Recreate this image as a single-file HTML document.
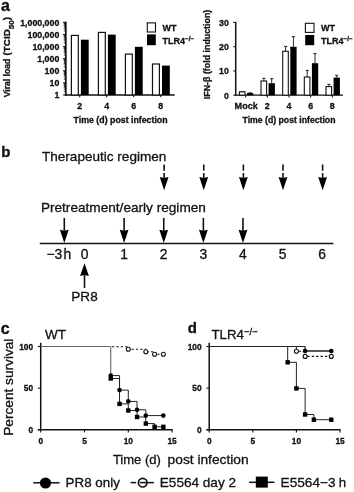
<!DOCTYPE html>
<html><head><meta charset="utf-8"><title>Figure</title>
<style>
html,body{margin:0;padding:0;background:#fff;}
svg{display:block;font-family:"Liberation Sans",sans-serif;filter:blur(0.4px);}
</style></head><body>
<svg width="354" height="492" viewBox="0 0 354 492">
<rect x="0" y="0" width="354" height="492" fill="#fff"/>
<text x="0.90" y="10.60" font-size="16" font-weight="bold" stroke="#111" stroke-width="0.3" text-anchor="start" fill="#111" >a</text>
<text x="1.20" y="157.40" font-size="15" font-weight="bold" stroke="#111" stroke-width="0.3" text-anchor="start" fill="#111" >b</text>
<text x="0.80" y="334.30" font-size="16" font-weight="bold" stroke="#111" stroke-width="0.3" text-anchor="start" fill="#111" >c</text>
<text x="187.80" y="333.30" font-size="15" font-weight="bold" stroke="#111" stroke-width="0.3" text-anchor="start" fill="#111" >d</text>
<line x1="65.80" y1="21.60" x2="65.80" y2="95.60" stroke="#111" stroke-width="1.7" />
<line x1="64.80" y1="95.00" x2="174.60" y2="95.00" stroke="#111" stroke-width="1.3" />
<line x1="63.10" y1="95.00" x2="65.50" y2="95.00" stroke="#111" stroke-width="1.1" />
<line x1="63.80" y1="91.36" x2="65.50" y2="91.36" stroke="#111" stroke-width="0.8" />
<line x1="63.80" y1="89.23" x2="65.50" y2="89.23" stroke="#111" stroke-width="0.8" />
<line x1="63.80" y1="87.72" x2="65.50" y2="87.72" stroke="#111" stroke-width="0.8" />
<line x1="63.80" y1="86.54" x2="65.50" y2="86.54" stroke="#111" stroke-width="0.8" />
<line x1="63.80" y1="85.58" x2="65.50" y2="85.58" stroke="#111" stroke-width="0.8" />
<line x1="63.80" y1="84.77" x2="65.50" y2="84.77" stroke="#111" stroke-width="0.8" />
<line x1="63.80" y1="84.07" x2="65.50" y2="84.07" stroke="#111" stroke-width="0.8" />
<line x1="63.80" y1="83.45" x2="65.50" y2="83.45" stroke="#111" stroke-width="0.8" />
<line x1="63.10" y1="82.90" x2="65.50" y2="82.90" stroke="#111" stroke-width="1.1" />
<line x1="63.80" y1="79.26" x2="65.50" y2="79.26" stroke="#111" stroke-width="0.8" />
<line x1="63.80" y1="77.13" x2="65.50" y2="77.13" stroke="#111" stroke-width="0.8" />
<line x1="63.80" y1="75.62" x2="65.50" y2="75.62" stroke="#111" stroke-width="0.8" />
<line x1="63.80" y1="74.44" x2="65.50" y2="74.44" stroke="#111" stroke-width="0.8" />
<line x1="63.80" y1="73.48" x2="65.50" y2="73.48" stroke="#111" stroke-width="0.8" />
<line x1="63.80" y1="72.67" x2="65.50" y2="72.67" stroke="#111" stroke-width="0.8" />
<line x1="63.80" y1="71.97" x2="65.50" y2="71.97" stroke="#111" stroke-width="0.8" />
<line x1="63.80" y1="71.35" x2="65.50" y2="71.35" stroke="#111" stroke-width="0.8" />
<line x1="63.10" y1="70.80" x2="65.50" y2="70.80" stroke="#111" stroke-width="1.1" />
<line x1="63.80" y1="67.16" x2="65.50" y2="67.16" stroke="#111" stroke-width="0.8" />
<line x1="63.80" y1="65.03" x2="65.50" y2="65.03" stroke="#111" stroke-width="0.8" />
<line x1="63.80" y1="63.52" x2="65.50" y2="63.52" stroke="#111" stroke-width="0.8" />
<line x1="63.80" y1="62.34" x2="65.50" y2="62.34" stroke="#111" stroke-width="0.8" />
<line x1="63.80" y1="61.38" x2="65.50" y2="61.38" stroke="#111" stroke-width="0.8" />
<line x1="63.80" y1="60.57" x2="65.50" y2="60.57" stroke="#111" stroke-width="0.8" />
<line x1="63.80" y1="59.87" x2="65.50" y2="59.87" stroke="#111" stroke-width="0.8" />
<line x1="63.80" y1="59.25" x2="65.50" y2="59.25" stroke="#111" stroke-width="0.8" />
<line x1="63.10" y1="58.70" x2="65.50" y2="58.70" stroke="#111" stroke-width="1.1" />
<line x1="63.80" y1="55.06" x2="65.50" y2="55.06" stroke="#111" stroke-width="0.8" />
<line x1="63.80" y1="52.93" x2="65.50" y2="52.93" stroke="#111" stroke-width="0.8" />
<line x1="63.80" y1="51.42" x2="65.50" y2="51.42" stroke="#111" stroke-width="0.8" />
<line x1="63.80" y1="50.24" x2="65.50" y2="50.24" stroke="#111" stroke-width="0.8" />
<line x1="63.80" y1="49.28" x2="65.50" y2="49.28" stroke="#111" stroke-width="0.8" />
<line x1="63.80" y1="48.47" x2="65.50" y2="48.47" stroke="#111" stroke-width="0.8" />
<line x1="63.80" y1="47.77" x2="65.50" y2="47.77" stroke="#111" stroke-width="0.8" />
<line x1="63.80" y1="47.15" x2="65.50" y2="47.15" stroke="#111" stroke-width="0.8" />
<line x1="63.10" y1="46.60" x2="65.50" y2="46.60" stroke="#111" stroke-width="1.1" />
<line x1="63.80" y1="42.96" x2="65.50" y2="42.96" stroke="#111" stroke-width="0.8" />
<line x1="63.80" y1="40.83" x2="65.50" y2="40.83" stroke="#111" stroke-width="0.8" />
<line x1="63.80" y1="39.32" x2="65.50" y2="39.32" stroke="#111" stroke-width="0.8" />
<line x1="63.80" y1="38.14" x2="65.50" y2="38.14" stroke="#111" stroke-width="0.8" />
<line x1="63.80" y1="37.18" x2="65.50" y2="37.18" stroke="#111" stroke-width="0.8" />
<line x1="63.80" y1="36.37" x2="65.50" y2="36.37" stroke="#111" stroke-width="0.8" />
<line x1="63.80" y1="35.67" x2="65.50" y2="35.67" stroke="#111" stroke-width="0.8" />
<line x1="63.80" y1="35.05" x2="65.50" y2="35.05" stroke="#111" stroke-width="0.8" />
<line x1="63.10" y1="34.50" x2="65.50" y2="34.50" stroke="#111" stroke-width="1.1" />
<line x1="63.80" y1="30.86" x2="65.50" y2="30.86" stroke="#111" stroke-width="0.8" />
<line x1="63.80" y1="28.73" x2="65.50" y2="28.73" stroke="#111" stroke-width="0.8" />
<line x1="63.80" y1="27.22" x2="65.50" y2="27.22" stroke="#111" stroke-width="0.8" />
<line x1="63.80" y1="26.04" x2="65.50" y2="26.04" stroke="#111" stroke-width="0.8" />
<line x1="63.80" y1="25.08" x2="65.50" y2="25.08" stroke="#111" stroke-width="0.8" />
<line x1="63.80" y1="24.27" x2="65.50" y2="24.27" stroke="#111" stroke-width="0.8" />
<line x1="63.80" y1="23.57" x2="65.50" y2="23.57" stroke="#111" stroke-width="0.8" />
<line x1="63.80" y1="22.95" x2="65.50" y2="22.95" stroke="#111" stroke-width="0.8" />
<line x1="63.10" y1="22.40" x2="65.50" y2="22.40" stroke="#111" stroke-width="1.1" />
<text x="59.30" y="98.30" font-size="8.8" font-weight="bold" stroke="#111" stroke-width="0.3" text-anchor="end" fill="#111" >1</text>
<text x="59.30" y="86.20" font-size="8.8" font-weight="bold" stroke="#111" stroke-width="0.3" text-anchor="end" fill="#111" >10</text>
<text x="59.30" y="74.10" font-size="8.8" font-weight="bold" stroke="#111" stroke-width="0.3" text-anchor="end" fill="#111" >100</text>
<text x="59.30" y="62.00" font-size="8.8" font-weight="bold" stroke="#111" stroke-width="0.3" text-anchor="end" fill="#111" >1,000</text>
<text x="59.30" y="49.90" font-size="8.8" font-weight="bold" stroke="#111" stroke-width="0.3" text-anchor="end" fill="#111" >10,000</text>
<text x="59.30" y="37.80" font-size="8.8" font-weight="bold" stroke="#111" stroke-width="0.3" text-anchor="end" fill="#111" >100,000</text>
<text x="59.30" y="25.70" font-size="8.8" font-weight="bold" stroke="#111" stroke-width="0.3" text-anchor="end" fill="#111" >1,000,000</text>
<line x1="79.70" y1="95.00" x2="79.70" y2="97.30" stroke="#111" stroke-width="1.1" />
<text x="79.70" y="108.90" font-size="8.8" font-weight="bold" stroke="#111" stroke-width="0.3" text-anchor="middle" fill="#111" >2</text>
<rect x="71.40" y="35.40" width="6.90" height="59.60" fill="#fff" stroke="#111" stroke-width="1.2"/>
<rect x="80.90" y="39.70" width="7.80" height="55.30" fill="#000"/>
<line x1="106.70" y1="95.00" x2="106.70" y2="97.30" stroke="#111" stroke-width="1.1" />
<text x="106.70" y="108.90" font-size="8.8" font-weight="bold" stroke="#111" stroke-width="0.3" text-anchor="middle" fill="#111" >4</text>
<rect x="98.40" y="32.40" width="6.90" height="62.60" fill="#fff" stroke="#111" stroke-width="1.2"/>
<rect x="107.90" y="34.60" width="7.80" height="60.40" fill="#000"/>
<line x1="133.70" y1="95.00" x2="133.70" y2="97.30" stroke="#111" stroke-width="1.1" />
<text x="133.70" y="108.90" font-size="8.8" font-weight="bold" stroke="#111" stroke-width="0.3" text-anchor="middle" fill="#111" >6</text>
<rect x="125.40" y="54.10" width="6.90" height="40.90" fill="#fff" stroke="#111" stroke-width="1.2"/>
<rect x="134.90" y="46.80" width="7.80" height="48.20" fill="#000"/>
<line x1="160.80" y1="95.00" x2="160.80" y2="97.30" stroke="#111" stroke-width="1.1" />
<text x="160.80" y="108.90" font-size="8.8" font-weight="bold" stroke="#111" stroke-width="0.3" text-anchor="middle" fill="#111" >8</text>
<rect x="152.50" y="64.00" width="6.90" height="31.00" fill="#fff" stroke="#111" stroke-width="1.2"/>
<rect x="162.00" y="65.60" width="7.80" height="29.40" fill="#000"/>
<text x="73.60" y="123.00" font-size="8.8" font-weight="bold" stroke="#111" stroke-width="0.3" text-anchor="start" textLength="94" lengthAdjust="spacingAndGlyphs" fill="#111" >Time (d) post infection</text>
<text transform="translate(9.5,97.2) rotate(-90)" font-size="9.1" font-weight="bold" fill="#111" stroke="#111" stroke-width="0.3" textLength="38.4" lengthAdjust="spacingAndGlyphs">Viral load</text>
<text transform="translate(9.5,55.4) rotate(-90)" font-size="9.8" font-weight="bold" fill="#111" stroke="#111" stroke-width="0.3">(TCID<tspan font-size="8" dy="4.2">50</tspan><tspan dy="-4.2">)</tspan></text>
<rect x="147.30" y="22.90" width="8.20" height="9.10" fill="#fff" stroke="#111" stroke-width="1.1"/>
<rect x="147.00" y="34.40" width="8.80" height="10.80" fill="#000"/>
<text x="162.60" y="31.00" font-size="9" font-weight="bold" stroke="#111" stroke-width="0.3" text-anchor="start" fill="#111" >WT</text>
<text x="162.6" y="43.9" font-size="9" font-weight="bold" fill="#111" stroke="#111" stroke-width="0.3">TLR4<tspan font-size="6.3" dy="-2.5">−/−</tspan></text>
<line x1="235.70" y1="21.80" x2="235.70" y2="95.80" stroke="#111" stroke-width="1.5" />
<line x1="235.00" y1="95.20" x2="343.00" y2="95.20" stroke="#111" stroke-width="1.3" />
<line x1="233.30" y1="95.20" x2="235.70" y2="95.20" stroke="#111" stroke-width="1.1" />
<text x="228.80" y="98.60" font-size="8.8" font-weight="bold" stroke="#111" stroke-width="0.3" text-anchor="end" fill="#111" >0</text>
<line x1="233.30" y1="70.95" x2="235.70" y2="70.95" stroke="#111" stroke-width="1.1" />
<text x="228.80" y="74.35" font-size="8.8" font-weight="bold" stroke="#111" stroke-width="0.3" text-anchor="end" fill="#111" >10</text>
<line x1="233.30" y1="46.70" x2="235.70" y2="46.70" stroke="#111" stroke-width="1.1" />
<text x="228.80" y="50.10" font-size="8.8" font-weight="bold" stroke="#111" stroke-width="0.3" text-anchor="end" fill="#111" >20</text>
<line x1="233.30" y1="22.45" x2="235.70" y2="22.45" stroke="#111" stroke-width="1.1" />
<text x="228.80" y="25.85" font-size="8.8" font-weight="bold" stroke="#111" stroke-width="0.3" text-anchor="end" fill="#111" >30</text>
<line x1="245.70" y1="95.20" x2="245.70" y2="97.50" stroke="#111" stroke-width="1.1" />
<text x="246.20" y="108.70" font-size="9.1" font-weight="bold" stroke="#111" stroke-width="0.3" text-anchor="middle" fill="#111" >Mock</text>
<line x1="242.30" y1="91.60" x2="242.30" y2="91.80" stroke="#111" stroke-width="0.9" />
<line x1="240.70" y1="91.60" x2="243.90" y2="91.60" stroke="#111" stroke-width="0.9" />
<rect x="239.40" y="91.80" width="5.60" height="3.40" fill="#fff" stroke="#111" stroke-width="1.1"/>
<line x1="250.10" y1="92.80" x2="250.10" y2="93.00" stroke="#111" stroke-width="0.9" />
<line x1="248.50" y1="92.80" x2="251.70" y2="92.80" stroke="#111" stroke-width="0.9" />
<rect x="247.00" y="93.00" width="6.30" height="2.20" fill="#000"/>
<line x1="267.30" y1="95.20" x2="267.30" y2="97.50" stroke="#111" stroke-width="1.1" />
<text x="267.30" y="108.70" font-size="8.8" font-weight="bold" stroke="#111" stroke-width="0.3" text-anchor="middle" fill="#111" >2</text>
<line x1="263.90" y1="78.30" x2="263.90" y2="81.00" stroke="#111" stroke-width="0.9" />
<line x1="262.30" y1="78.30" x2="265.50" y2="78.30" stroke="#111" stroke-width="0.9" />
<rect x="261.00" y="81.00" width="5.60" height="14.20" fill="#fff" stroke="#111" stroke-width="1.1"/>
<line x1="271.70" y1="78.70" x2="271.70" y2="83.20" stroke="#111" stroke-width="0.9" />
<line x1="270.10" y1="78.70" x2="273.30" y2="78.70" stroke="#111" stroke-width="0.9" />
<rect x="268.60" y="83.20" width="6.30" height="12.00" fill="#000"/>
<line x1="289.00" y1="95.20" x2="289.00" y2="97.50" stroke="#111" stroke-width="1.1" />
<text x="289.00" y="108.70" font-size="8.8" font-weight="bold" stroke="#111" stroke-width="0.3" text-anchor="middle" fill="#111" >4</text>
<line x1="285.60" y1="46.40" x2="285.60" y2="51.30" stroke="#111" stroke-width="0.9" />
<line x1="284.00" y1="46.40" x2="287.20" y2="46.40" stroke="#111" stroke-width="0.9" />
<rect x="282.70" y="51.30" width="5.60" height="43.90" fill="#fff" stroke="#111" stroke-width="1.1"/>
<line x1="293.40" y1="36.60" x2="293.40" y2="46.80" stroke="#111" stroke-width="0.9" />
<line x1="291.80" y1="36.60" x2="295.00" y2="36.60" stroke="#111" stroke-width="0.9" />
<rect x="290.30" y="46.80" width="6.30" height="48.40" fill="#000"/>
<line x1="310.60" y1="95.20" x2="310.60" y2="97.50" stroke="#111" stroke-width="1.1" />
<text x="310.60" y="108.70" font-size="8.8" font-weight="bold" stroke="#111" stroke-width="0.3" text-anchor="middle" fill="#111" >6</text>
<line x1="307.20" y1="70.40" x2="307.20" y2="77.00" stroke="#111" stroke-width="0.9" />
<line x1="305.60" y1="70.40" x2="308.80" y2="70.40" stroke="#111" stroke-width="0.9" />
<rect x="304.30" y="77.00" width="5.60" height="18.20" fill="#fff" stroke="#111" stroke-width="1.1"/>
<line x1="315.00" y1="53.60" x2="315.00" y2="63.20" stroke="#111" stroke-width="0.9" />
<line x1="313.40" y1="53.60" x2="316.60" y2="53.60" stroke="#111" stroke-width="0.9" />
<rect x="311.90" y="63.20" width="6.30" height="32.00" fill="#000"/>
<line x1="332.30" y1="95.20" x2="332.30" y2="97.50" stroke="#111" stroke-width="1.1" />
<text x="332.30" y="108.70" font-size="8.8" font-weight="bold" stroke="#111" stroke-width="0.3" text-anchor="middle" fill="#111" >8</text>
<line x1="328.90" y1="84.40" x2="328.90" y2="86.60" stroke="#111" stroke-width="0.9" />
<line x1="327.30" y1="84.40" x2="330.50" y2="84.40" stroke="#111" stroke-width="0.9" />
<rect x="326.00" y="86.60" width="5.60" height="8.60" fill="#fff" stroke="#111" stroke-width="1.1"/>
<line x1="336.70" y1="75.30" x2="336.70" y2="77.60" stroke="#111" stroke-width="0.9" />
<line x1="335.10" y1="75.30" x2="338.30" y2="75.30" stroke="#111" stroke-width="0.9" />
<rect x="333.60" y="77.60" width="6.30" height="17.60" fill="#000"/>
<text x="242.50" y="123.20" font-size="8.8" font-weight="bold" stroke="#111" stroke-width="0.3" text-anchor="start" textLength="93" lengthAdjust="spacingAndGlyphs" fill="#111" >Time (d) post infection</text>
<text transform="translate(209.8,99.2) rotate(-90)" font-size="8.8" font-weight="bold" fill="#111" stroke="#111" stroke-width="0.3" textLength="89.5" lengthAdjust="spacingAndGlyphs">IFN-β (fold induction)</text>
<rect x="305.40" y="23.30" width="8.60" height="9.10" fill="#fff" stroke="#111" stroke-width="1.1"/>
<rect x="305.20" y="35.00" width="9.00" height="10.20" fill="#000"/>
<text x="321.00" y="31.00" font-size="9" font-weight="bold" stroke="#111" stroke-width="0.3" text-anchor="start" fill="#111" >WT</text>
<text x="321" y="43.9" font-size="9" font-weight="bold" fill="#111" stroke="#111" stroke-width="0.3">TLR4<tspan font-size="6.3" dy="-2.5">−/−</tspan></text>
<text x="42.00" y="160.60" font-size="13.3" stroke="#111" stroke-width="0.3" text-anchor="start" textLength="124.3" lengthAdjust="spacingAndGlyphs" fill="#111" >Therapeutic regimen</text>
<text x="40.90" y="211.60" font-size="13.3" stroke="#111" stroke-width="0.3" text-anchor="start" textLength="165" lengthAdjust="spacingAndGlyphs" fill="#111" >Pretreatment/early regimen</text>
<line x1="39.70" y1="243.50" x2="333.40" y2="243.50" stroke="#111" stroke-width="1.4" />
<line x1="164.14" y1="164.50" x2="164.14" y2="170.70" stroke="#111" stroke-width="1.6" />
<line x1="164.14" y1="173.10" x2="164.14" y2="178.30" stroke="#111" stroke-width="1.6" />
<polygon points="159.74,177.00 164.14,177.90 168.54,177.00 164.14,190.30" fill="#000"/>
<line x1="203.76" y1="164.50" x2="203.76" y2="170.70" stroke="#111" stroke-width="1.6" />
<line x1="203.76" y1="173.10" x2="203.76" y2="178.30" stroke="#111" stroke-width="1.6" />
<polygon points="199.36,177.00 203.76,177.90 208.16,177.00 203.76,190.30" fill="#000"/>
<line x1="243.38" y1="164.50" x2="243.38" y2="170.70" stroke="#111" stroke-width="1.6" />
<line x1="243.38" y1="173.10" x2="243.38" y2="178.30" stroke="#111" stroke-width="1.6" />
<polygon points="238.98,177.00 243.38,177.90 247.78,177.00 243.38,190.30" fill="#000"/>
<line x1="283.00" y1="164.50" x2="283.00" y2="170.70" stroke="#111" stroke-width="1.6" />
<line x1="283.00" y1="173.10" x2="283.00" y2="178.30" stroke="#111" stroke-width="1.6" />
<polygon points="278.60,177.00 283.00,177.90 287.40,177.00 283.00,190.30" fill="#000"/>
<line x1="322.62" y1="164.50" x2="322.62" y2="170.70" stroke="#111" stroke-width="1.6" />
<line x1="322.62" y1="173.10" x2="322.62" y2="178.30" stroke="#111" stroke-width="1.6" />
<polygon points="318.22,177.00 322.62,177.90 327.02,177.00 322.62,190.30" fill="#000"/>
<line x1="64.30" y1="217.90" x2="64.30" y2="231.10" stroke="#111" stroke-width="1.6" />
<polygon points="59.90,229.80 64.30,230.70 68.70,229.80 64.30,243.10" fill="#000"/>
<line x1="124.12" y1="217.90" x2="124.12" y2="231.10" stroke="#111" stroke-width="1.6" />
<polygon points="119.72,229.80 124.12,230.70 128.52,229.80 124.12,243.10" fill="#000"/>
<line x1="163.74" y1="217.90" x2="163.74" y2="231.10" stroke="#111" stroke-width="1.6" />
<polygon points="159.34,229.80 163.74,230.70 168.14,229.80 163.74,243.10" fill="#000"/>
<line x1="203.36" y1="217.90" x2="203.36" y2="231.10" stroke="#111" stroke-width="1.6" />
<polygon points="198.96,229.80 203.36,230.70 207.76,229.80 203.36,243.10" fill="#000"/>
<line x1="242.98" y1="217.90" x2="242.98" y2="231.10" stroke="#111" stroke-width="1.6" />
<polygon points="238.58,229.80 242.98,230.70 247.38,229.80 242.98,243.10" fill="#000"/>
<text x="84.50" y="259.00" font-size="13.9" stroke="#111" stroke-width="0.3" text-anchor="middle" fill="#111" >0</text>
<text x="124.12" y="259.00" font-size="13.9" stroke="#111" stroke-width="0.3" text-anchor="middle" fill="#111" >1</text>
<text x="163.74" y="259.00" font-size="13.9" stroke="#111" stroke-width="0.3" text-anchor="middle" fill="#111" >2</text>
<text x="203.36" y="259.00" font-size="13.9" stroke="#111" stroke-width="0.3" text-anchor="middle" fill="#111" >3</text>
<text x="242.98" y="259.00" font-size="13.9" stroke="#111" stroke-width="0.3" text-anchor="middle" fill="#111" >4</text>
<text x="282.60" y="259.00" font-size="13.9" stroke="#111" stroke-width="0.3" text-anchor="middle" fill="#111" >5</text>
<text x="322.22" y="259.00" font-size="13.9" stroke="#111" stroke-width="0.3" text-anchor="middle" fill="#111" >6</text>
<text x="46.40" y="259.00" font-size="13.9" stroke="#111" stroke-width="0.3" text-anchor="start" fill="#111" >−3</text>
<text x="63.50" y="259.00" font-size="13.9" stroke="#111" stroke-width="0.3" text-anchor="start" fill="#111" >h</text>
<line x1="84.50" y1="288.00" x2="84.50" y2="275.00" stroke="#111" stroke-width="1.6" />
<polygon points="80.1,276 84.5,275 88.9,276 84.5,263.2" fill="#000"/>
<text x="84.50" y="300.80" font-size="13.700000000000001" stroke="#111" stroke-width="0.3" text-anchor="middle" textLength="26.4" lengthAdjust="spacingAndGlyphs" fill="#111" >PR8</text>
<line x1="40.70" y1="342.80" x2="40.70" y2="430.40" stroke="#111" stroke-width="1.5" />
<line x1="37.90" y1="429.80" x2="172.70" y2="429.80" stroke="#111" stroke-width="1.4" />
<line x1="37.90" y1="429.80" x2="40.70" y2="429.80" stroke="#111" stroke-width="1.1" />
<text x="33.10" y="432.80" font-size="8.3" font-weight="bold" stroke="#111" stroke-width="0.3" text-anchor="end" fill="#111" >0</text>
<line x1="37.90" y1="388.15" x2="40.70" y2="388.15" stroke="#111" stroke-width="1.1" />
<text x="33.10" y="391.15" font-size="8.3" font-weight="bold" stroke="#111" stroke-width="0.3" text-anchor="end" fill="#111" >50</text>
<line x1="37.90" y1="346.50" x2="40.70" y2="346.50" stroke="#111" stroke-width="1.1" />
<text x="33.10" y="349.50" font-size="8.3" font-weight="bold" stroke="#111" stroke-width="0.3" text-anchor="end" fill="#111" >100</text>
<line x1="40.70" y1="429.80" x2="40.70" y2="432.40" stroke="#111" stroke-width="1.1" />
<text x="40.70" y="443.50" font-size="8.3" font-weight="bold" stroke="#111" stroke-width="0.3" text-anchor="middle" fill="#111" >0</text>
<line x1="84.50" y1="429.80" x2="84.50" y2="432.40" stroke="#111" stroke-width="1.1" />
<text x="84.50" y="443.50" font-size="8.3" font-weight="bold" stroke="#111" stroke-width="0.3" text-anchor="middle" fill="#111" >5</text>
<line x1="128.30" y1="429.80" x2="128.30" y2="432.40" stroke="#111" stroke-width="1.1" />
<text x="128.30" y="443.50" font-size="8.3" font-weight="bold" stroke="#111" stroke-width="0.3" text-anchor="middle" fill="#111" >10</text>
<line x1="172.10" y1="429.80" x2="172.10" y2="432.40" stroke="#111" stroke-width="1.1" />
<text x="172.10" y="443.50" font-size="8.3" font-weight="bold" stroke="#111" stroke-width="0.3" text-anchor="middle" fill="#111" >15</text>
<line x1="209.20" y1="342.80" x2="209.20" y2="430.40" stroke="#111" stroke-width="1.5" />
<line x1="206.40" y1="429.80" x2="340.60" y2="429.80" stroke="#111" stroke-width="1.4" />
<line x1="206.40" y1="429.80" x2="209.20" y2="429.80" stroke="#111" stroke-width="1.1" />
<text x="201.60" y="432.80" font-size="8.3" font-weight="bold" stroke="#111" stroke-width="0.3" text-anchor="end" fill="#111" >0</text>
<line x1="206.40" y1="388.15" x2="209.20" y2="388.15" stroke="#111" stroke-width="1.1" />
<text x="201.60" y="391.15" font-size="8.3" font-weight="bold" stroke="#111" stroke-width="0.3" text-anchor="end" fill="#111" >50</text>
<line x1="206.40" y1="346.50" x2="209.20" y2="346.50" stroke="#111" stroke-width="1.1" />
<text x="201.60" y="349.50" font-size="8.3" font-weight="bold" stroke="#111" stroke-width="0.3" text-anchor="end" fill="#111" >100</text>
<line x1="209.20" y1="429.80" x2="209.20" y2="432.40" stroke="#111" stroke-width="1.1" />
<text x="209.20" y="443.50" font-size="8.3" font-weight="bold" stroke="#111" stroke-width="0.3" text-anchor="middle" fill="#111" >0</text>
<line x1="252.80" y1="429.80" x2="252.80" y2="432.40" stroke="#111" stroke-width="1.1" />
<text x="252.80" y="443.50" font-size="8.3" font-weight="bold" stroke="#111" stroke-width="0.3" text-anchor="middle" fill="#111" >5</text>
<line x1="296.40" y1="429.80" x2="296.40" y2="432.40" stroke="#111" stroke-width="1.1" />
<text x="296.40" y="443.50" font-size="8.3" font-weight="bold" stroke="#111" stroke-width="0.3" text-anchor="middle" fill="#111" >10</text>
<line x1="340.00" y1="429.80" x2="340.00" y2="432.40" stroke="#111" stroke-width="1.1" />
<text x="340.00" y="443.50" font-size="8.3" font-weight="bold" stroke="#111" stroke-width="0.3" text-anchor="middle" fill="#111" >15</text>
<text transform="translate(12.6,435.8) rotate(-90)" font-size="13.3" fill="#111" stroke="#111" stroke-width="0.3" textLength="97.2" lengthAdjust="spacingAndGlyphs">Percent survival</text>
<text x="45.00" y="338.80" font-size="13.3" stroke="#111" stroke-width="0.3" text-anchor="start" textLength="21" lengthAdjust="spacingAndGlyphs" fill="#111" >WT</text>
<polyline fill="none" stroke="#666" stroke-width="1.0" points="40.70,346.50 110.78,346.50"/>
<polyline fill="none" stroke="#555" stroke-width="1.0" points="110.78,346.50 110.78,374.00"/>
<polyline fill="none" stroke="#111" stroke-width="1.1" stroke-dasharray="2.3 2.1" points="111.98,346.70 128.30,346.70 128.30,349.20 145.82,349.20 145.82,351.80 154.58,351.80 154.58,354.20 163.34,354.20"/>
<polyline fill="none" stroke="#222" stroke-width="1.0" points="110.78,374.00 110.78,375.60 119.54,375.60 119.54,390.10 128.30,390.10 128.30,401.40 137.06,401.40 137.06,409.80 145.82,409.80 145.82,415.60 163.34,415.60"/>
<polyline fill="none" stroke="#222" stroke-width="1.0" points="110.78,374.00 110.78,378.50 119.54,378.50 119.54,403.90 128.30,403.90 128.30,410.50 137.06,410.50 137.06,417.00 145.82,417.00 145.82,423.60 154.58,423.60 154.58,426.80 163.34,426.80"/>
<circle cx="110.78" cy="375.60" r="2.3" fill="#000"/>
<circle cx="119.54" cy="390.10" r="2.3" fill="#000"/>
<circle cx="128.30" cy="401.40" r="2.3" fill="#000"/>
<circle cx="137.06" cy="409.80" r="2.3" fill="#000"/>
<circle cx="145.82" cy="415.60" r="2.3" fill="#000"/>
<circle cx="163.34" cy="415.60" r="2.3" fill="#000"/>
<rect x="108.58" y="376.30" width="4.40" height="4.40" fill="#000"/>
<rect x="117.34" y="401.70" width="4.40" height="4.40" fill="#000"/>
<rect x="126.10" y="408.30" width="4.40" height="4.40" fill="#000"/>
<rect x="134.86" y="414.80" width="4.40" height="4.40" fill="#000"/>
<rect x="143.62" y="421.40" width="4.40" height="4.40" fill="#000"/>
<rect x="152.38" y="424.60" width="4.40" height="4.40" fill="#000"/>
<rect x="161.14" y="424.60" width="4.40" height="4.40" fill="#000"/>
<circle cx="128.30" cy="349.20" r="2.0" fill="#fff" stroke="#111" stroke-width="1.1"/>
<circle cx="145.82" cy="351.80" r="2.0" fill="#fff" stroke="#111" stroke-width="1.1"/>
<circle cx="154.58" cy="354.20" r="2.0" fill="#fff" stroke="#111" stroke-width="1.1"/>
<circle cx="163.34" cy="354.20" r="2.0" fill="#fff" stroke="#111" stroke-width="1.1"/>
<text x="211.5" y="338.8" font-size="13.3" fill="#111" stroke="#111" stroke-width="0.3">TLR4<tspan font-size="9.5" dy="-4.0">−/−</tspan></text>
<polyline fill="none" stroke="#222" stroke-width="1.0" points="209.20,346.50 305.12,346.50"/>
<polyline fill="none" stroke="#222" stroke-width="1.0" points="287.68,346.50 287.68,362.30 296.40,362.30 296.40,388.40 305.12,388.40 305.12,414.50 313.84,414.50 313.84,419.70 331.28,419.70"/>
<polyline fill="none" stroke="#222" stroke-width="1.3" points="305.12,346.50 305.12,351.00 331.28,351.00"/>
<polyline fill="none" stroke="#222" stroke-width="1.0" points="296.40,346.50 296.40,349.00"/>
<polyline fill="none" stroke="#111" stroke-width="1.1" stroke-dasharray="2.2 1.8" points="298.80,351.30 305.12,351.30"/>
<polyline fill="none" stroke="#111" stroke-width="1.1" stroke-dasharray="2.3 2.1" points="307.32,356.40 331.28,356.40"/>
<rect x="285.48" y="360.10" width="4.40" height="4.40" fill="#000"/>
<rect x="294.20" y="386.20" width="4.40" height="4.40" fill="#000"/>
<rect x="302.92" y="412.30" width="4.40" height="4.40" fill="#000"/>
<rect x="311.64" y="417.50" width="4.40" height="4.40" fill="#000"/>
<rect x="329.08" y="417.50" width="4.40" height="4.40" fill="#000"/>
<circle cx="296.40" cy="351.30" r="2.0" fill="#fff" stroke="#111" stroke-width="1.1"/>
<circle cx="305.12" cy="356.40" r="2.0" fill="#fff" stroke="#111" stroke-width="1.1"/>
<circle cx="331.28" cy="356.40" r="2.0" fill="#fff" stroke="#111" stroke-width="1.1"/>
<circle cx="305.12" cy="351.00" r="2.3" fill="#000"/>
<circle cx="331.28" cy="351.00" r="2.3" fill="#000"/>
<text x="112.90" y="463.90" font-size="13.3" stroke="#111" stroke-width="0.3" text-anchor="start" textLength="48" lengthAdjust="spacingAndGlyphs" fill="#111" >Time (d)</text>
<text x="167.60" y="463.90" font-size="13.3" stroke="#111" stroke-width="0.3" text-anchor="start" textLength="81" lengthAdjust="spacingAndGlyphs" fill="#111" >post infection</text>
<line x1="33.30" y1="482.80" x2="59.60" y2="482.80" stroke="#111" stroke-width="1.5" />
<circle cx="45.5" cy="483" r="5.6" fill="#000"/>
<text x="65.60" y="487.00" font-size="13.3" stroke="#111" stroke-width="0.3" text-anchor="start" textLength="54.3" lengthAdjust="spacingAndGlyphs" fill="#111" >PR8 only</text>
<line x1="130.50" y1="482.60" x2="136.10" y2="482.60" stroke="#111" stroke-width="1.5" />
<line x1="140.00" y1="482.60" x2="153.90" y2="482.60" stroke="#111" stroke-width="1.5" />
<circle cx="142.7" cy="482.7" r="4.3" fill="none" stroke="#111" stroke-width="1.7"/>
<text x="159.80" y="487.00" font-size="13.3" stroke="#111" stroke-width="0.3" text-anchor="start" textLength="76.2" lengthAdjust="spacingAndGlyphs" fill="#111" >E5564 day 2</text>
<line x1="249.10" y1="482.30" x2="274.40" y2="482.30" stroke="#111" stroke-width="1.5" />
<rect x="255.80" y="476.60" width="12.00" height="11.00" fill="#000"/>
<text x="280.60" y="487.20" font-size="13.3" stroke="#111" stroke-width="0.3" text-anchor="start" textLength="55" lengthAdjust="spacingAndGlyphs" fill="#111" >E5564−3</text>
<text x="338.80" y="487.20" font-size="13.3" stroke="#111" stroke-width="0.3" text-anchor="start" fill="#111" >h</text>
</svg>
</body></html>
